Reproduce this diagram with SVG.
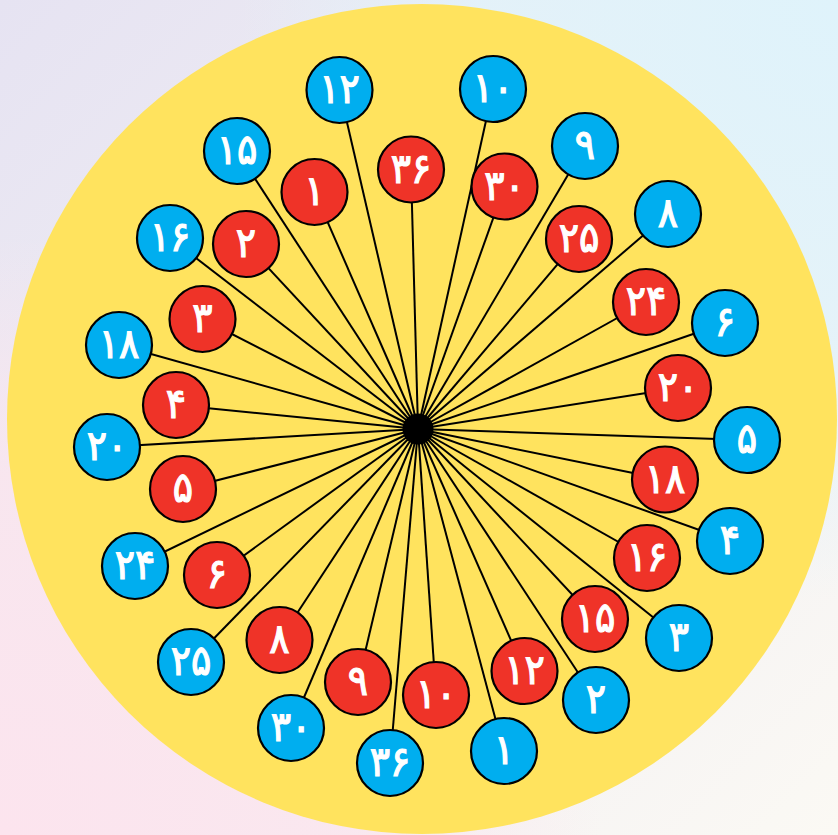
<svg xmlns="http://www.w3.org/2000/svg" width="838" height="835" viewBox="0 0 838 835">
<defs>
<linearGradient id="bg" x1="0" y1="0" x2="1" y2="1">
<stop offset="0" stop-color="#E6E3F2"/>
<stop offset="1" stop-color="#FBF9F4"/>
</linearGradient>
<radialGradient id="tr" cx="838" cy="0" r="600" gradientUnits="userSpaceOnUse">
<stop offset="0" stop-color="#DFF3FB" stop-opacity="1"/>
<stop offset="0.6" stop-color="#E1F3FA" stop-opacity="0.8"/>
<stop offset="1" stop-color="#E1F3FA" stop-opacity="0"/>
</radialGradient>
<radialGradient id="bl" cx="0" cy="835" r="600" gradientUnits="userSpaceOnUse">
<stop offset="0" stop-color="#FCE4EE" stop-opacity="1"/>
<stop offset="0.6" stop-color="#FBE5EE" stop-opacity="0.8"/>
<stop offset="1" stop-color="#FBE5EE" stop-opacity="0"/>
</radialGradient>
<style>
.node circle{stroke:#000;stroke-width:2.2}
.blue circle{fill:#00AEEF}
.red circle{fill:#EF3328}
.node text{font-family:"DejaVu Sans Condensed","DejaVu Sans",sans-serif;font-weight:normal;font-size:42px;fill:#fff;stroke:#fff;stroke-width:1.2;text-anchor:middle}
#connectors line{stroke:#000;stroke-width:2}
</style>
</defs>
<rect width="838" height="835" fill="url(#bg)"/>
<rect width="838" height="835" fill="url(#tr)"/>
<rect width="838" height="835" fill="url(#bl)"/>
<circle cx="422" cy="419" r="415" fill="#FFE35E"/>
<g id="connectors">
<line x1="418" y1="429" x2="339.5" y2="90"/>
<line x1="418" y1="429" x2="493" y2="89"/>
<line x1="418" y1="429" x2="585" y2="146"/>
<line x1="418" y1="429" x2="668" y2="214"/>
<line x1="418" y1="429" x2="725" y2="323"/>
<line x1="418" y1="429" x2="747" y2="440"/>
<line x1="418" y1="429" x2="730" y2="541"/>
<line x1="418" y1="429" x2="679" y2="638"/>
<line x1="418" y1="429" x2="596" y2="700"/>
<line x1="418" y1="429" x2="504" y2="751"/>
<line x1="418" y1="429" x2="390" y2="763"/>
<line x1="418" y1="429" x2="291" y2="728"/>
<line x1="418" y1="429" x2="191" y2="662"/>
<line x1="418" y1="429" x2="135" y2="566"/>
<line x1="418" y1="429" x2="107" y2="447"/>
<line x1="418" y1="429" x2="119" y2="345"/>
<line x1="418" y1="429" x2="170" y2="238"/>
<line x1="418" y1="429" x2="237" y2="151"/>
<line x1="418" y1="429" x2="314.5" y2="192"/>
<line x1="418" y1="429" x2="411" y2="169.5"/>
<line x1="418" y1="429" x2="504.5" y2="186.5"/>
<line x1="418" y1="429" x2="579" y2="239"/>
<line x1="418" y1="429" x2="646" y2="302"/>
<line x1="418" y1="429" x2="678" y2="388"/>
<line x1="418" y1="429" x2="665" y2="479.5"/>
<line x1="418" y1="429" x2="647" y2="558"/>
<line x1="418" y1="429" x2="595" y2="619"/>
<line x1="418" y1="429" x2="524.5" y2="671"/>
<line x1="418" y1="429" x2="436" y2="695"/>
<line x1="418" y1="429" x2="358" y2="682"/>
<line x1="418" y1="429" x2="279.5" y2="640"/>
<line x1="418" y1="429" x2="217" y2="575"/>
<line x1="418" y1="429" x2="183" y2="489"/>
<line x1="418" y1="429" x2="176" y2="405"/>
<line x1="418" y1="429" x2="202.5" y2="319"/>
<line x1="418" y1="429" x2="246" y2="244"/>
</g>
<g id="hub"><circle cx="418" cy="429" r="15.5" fill="#000"/></g>
<g id="b12" class="node blue"><circle cx="339.5" cy="90" r="33"/><text x="339.5" y="103">۱۲</text></g>
<g id="b10" class="node blue"><circle cx="493" cy="89" r="33"/><text x="493" y="102">۱۰</text></g>
<g id="b9" class="node blue"><circle cx="585" cy="146" r="33"/><text x="585" y="159">۹</text></g>
<g id="b8" class="node blue"><circle cx="668" cy="214" r="33"/><text x="668" y="227">۸</text></g>
<g id="b6" class="node blue"><circle cx="725" cy="323" r="33"/><text x="725" y="336">۶</text></g>
<g id="b5" class="node blue"><circle cx="747" cy="440" r="33"/><text x="747" y="453">۵</text></g>
<g id="b4" class="node blue"><circle cx="730" cy="541" r="33"/><text x="730" y="554">۴</text></g>
<g id="b3" class="node blue"><circle cx="679" cy="638" r="33"/><text x="679" y="651">۳</text></g>
<g id="b2" class="node blue"><circle cx="596" cy="700" r="33"/><text x="596" y="713">۲</text></g>
<g id="b1" class="node blue"><circle cx="504" cy="751" r="33"/><text x="504" y="764">۱</text></g>
<g id="b36" class="node blue"><circle cx="390" cy="763" r="33"/><text x="390" y="776">۳۶</text></g>
<g id="b30" class="node blue"><circle cx="291" cy="728" r="33"/><text x="291" y="741">۳۰</text></g>
<g id="b25" class="node blue"><circle cx="191" cy="662" r="33"/><text x="191" y="675">۲۵</text></g>
<g id="b24" class="node blue"><circle cx="135" cy="566" r="33"/><text x="135" y="579">۲۴</text></g>
<g id="b20" class="node blue"><circle cx="107" cy="447" r="33"/><text x="107" y="460">۲۰</text></g>
<g id="b18" class="node blue"><circle cx="119" cy="345" r="33"/><text x="119" y="358">۱۸</text></g>
<g id="b16" class="node blue"><circle cx="170" cy="238" r="33"/><text x="170" y="251">۱۶</text></g>
<g id="b15" class="node blue"><circle cx="237" cy="151" r="33"/><text x="237" y="164">۱۵</text></g>
<g id="r1" class="node red"><circle cx="314.5" cy="192" r="33"/><text x="314.5" y="205">۱</text></g>
<g id="r36" class="node red"><circle cx="411" cy="169.5" r="33"/><text x="411" y="182.5">۳۶</text></g>
<g id="r30" class="node red"><circle cx="504.5" cy="186.5" r="33"/><text x="504.5" y="199.5">۳۰</text></g>
<g id="r25" class="node red"><circle cx="579" cy="239" r="33"/><text x="579" y="252">۲۵</text></g>
<g id="r24" class="node red"><circle cx="646" cy="302" r="33"/><text x="646" y="315">۲۴</text></g>
<g id="r20" class="node red"><circle cx="678" cy="388" r="33"/><text x="678" y="401">۲۰</text></g>
<g id="r18" class="node red"><circle cx="665" cy="479.5" r="33"/><text x="665" y="492.5">۱۸</text></g>
<g id="r16" class="node red"><circle cx="647" cy="558" r="33"/><text x="647" y="571">۱۶</text></g>
<g id="r15" class="node red"><circle cx="595" cy="619" r="33"/><text x="595" y="632">۱۵</text></g>
<g id="r12" class="node red"><circle cx="524.5" cy="671" r="33"/><text x="524.5" y="684">۱۲</text></g>
<g id="r10" class="node red"><circle cx="436" cy="695" r="33"/><text x="436" y="708">۱۰</text></g>
<g id="r9" class="node red"><circle cx="358" cy="682" r="33"/><text x="358" y="695">۹</text></g>
<g id="r8" class="node red"><circle cx="279.5" cy="640" r="33"/><text x="279.5" y="653">۸</text></g>
<g id="r6" class="node red"><circle cx="217" cy="575" r="33"/><text x="217" y="588">۶</text></g>
<g id="r5" class="node red"><circle cx="183" cy="489" r="33"/><text x="183" y="502">۵</text></g>
<g id="r4" class="node red"><circle cx="176" cy="405" r="33"/><text x="176" y="418">۴</text></g>
<g id="r3" class="node red"><circle cx="202.5" cy="319" r="33"/><text x="202.5" y="332">۳</text></g>
<g id="r2" class="node red"><circle cx="246" cy="244" r="33"/><text x="246" y="257">۲</text></g>
</svg>
